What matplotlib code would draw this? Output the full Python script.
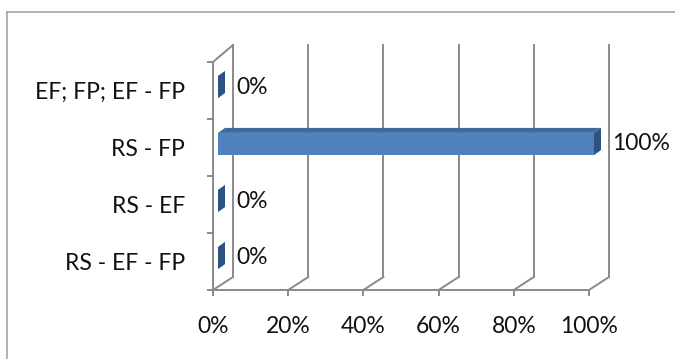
import matplotlib
matplotlib.use("Agg")
import matplotlib.pyplot as plt
from matplotlib.patches import Polygon
from matplotlib.lines import Line2D
from matplotlib.ticker import FixedLocator, FuncFormatter

# ---- data -------------------------------------------------------------
categories = ["RS - EF - FP", "RS - EF", "RS - FP", "EF; FP; EF - FP"]
shares = [0.0, 0.0, 1.0, 0.0]
x_ticks = [0.0, 0.2, 0.4, 0.6, 0.8, 1.0]

# ---- style ------------------------------------------------------------
plt.rcParams["font.family"] = ["Lato", "DejaVu Sans"]
FONT_SIZE = 16.5
TEXT_COLOR = "#111111"
GRID_COLOR = "#8a8a8a"
GRID_LW = 1.4
FRONT_COLOR = "#4f81bd"
TOP_COLOR = "#3e6a9f"
SIDE_COLOR = "#2d5481"

W, H, DPI = 675, 359, 100
fig = plt.figure(figsize=(W / DPI, H / DPI), dpi=DPI)
fig.patch.set_facecolor("white")

# plot area (front plane) in pixels
ax_left, ax_right = 213, 589
ax_top, ax_bottom = 62, 290
ax = fig.add_axes([ax_left / W, (H - ax_bottom) / H,
                   (ax_right - ax_left) / W, (ax_bottom - ax_top) / H])
ax.set_xlim(0, 1)
ax.set_ylim(-0.5, len(categories) - 0.5)
ax.set_facecolor("none")

# pixel -> data conversion for the pseudo-3D depth
px_x = 1.0 / (ax_right - ax_left)
px_y = len(categories) / (ax_bottom - ax_top)

DEPTH_DX = 20 * px_x
DEPTH_DY_BOTTOM = 13 * px_y
DEPTH_DY_TOP = 17 * px_y
y_lo, y_hi = -0.5, len(categories) - 0.5

# spines: front left wall edge and front floor edge
for side in ("top", "right"):
    ax.spines[side].set_visible(False)
for side in ("left", "bottom"):
    ax.spines[side].set_color(GRID_COLOR)
    ax.spines[side].set_linewidth(GRID_LW)

# back wall gridlines + floor diagonals
for v in x_ticks:
    ax.add_line(Line2D([v + DEPTH_DX, v + DEPTH_DX],
                       [y_lo + DEPTH_DY_BOTTOM, y_hi + DEPTH_DY_TOP],
                       color=GRID_COLOR, lw=GRID_LW, clip_on=False, zorder=1))
    ax.add_line(Line2D([v, v + DEPTH_DX], [y_lo, y_lo + DEPTH_DY_BOTTOM],
                       color=GRID_COLOR, lw=GRID_LW, clip_on=False, zorder=1))
# top edge of the side wall
ax.add_line(Line2D([0, DEPTH_DX], [y_hi, y_hi + DEPTH_DY_TOP],
                   color=GRID_COLOR, lw=GRID_LW, clip_on=False, zorder=1))

# ---- 3-D bars ---------------------------------------------------------
bar_h = 0.39
front_dx, front_dy = 5 * px_x, 3.5 * px_y
back_dx, back_dy = 12 * px_x, 8.5 * px_y
ypos = list(range(len(categories)))

bars = ax.barh([y + front_dy for y in ypos], shares, height=bar_h, left=front_dx,
               color=FRONT_COLOR, edgecolor="none", zorder=3)
for patch in bars:
    patch.set_clip_on(False)

for y, v in zip(ypos, shares):
    top = y + bar_h / 2
    bot = y - bar_h / 2
    # top face
    ax.add_patch(Polygon([(front_dx, top + front_dy), (v + front_dx, top + front_dy),
                          (v + back_dx, top + back_dy), (back_dx, top + back_dy)],
                         closed=True, facecolor=TOP_COLOR, edgecolor="none",
                         zorder=3, clip_on=False))
    # end face
    ax.add_patch(Polygon([(v + front_dx, bot + front_dy), (v + front_dx, top + front_dy),
                          (v + back_dx, top + back_dy), (v + back_dx, bot + back_dy)],
                         closed=True, facecolor=SIDE_COLOR, edgecolor="none",
                         zorder=4, clip_on=False))
    ax.annotate(f"{v:.0%}", xy=(v, y), xytext=(23, 3.5), textcoords="offset pixels",
                ha="left", va="center", fontsize=FONT_SIZE, color=TEXT_COLOR,
                annotation_clip=False)

# ---- axes ticks and labels -------------------------------------------
ax.xaxis.set_major_locator(FixedLocator(x_ticks))
ax.xaxis.set_major_formatter(FuncFormatter(lambda v, _: f"{v:.0%}"))
ax.tick_params(axis="x", which="major", direction="out", length=4.5, width=GRID_LW,
               color=GRID_COLOR, pad=14, labelsize=FONT_SIZE, labelcolor=TEXT_COLOR)

ax.yaxis.set_major_locator(FixedLocator([y - 0.5 for y in range(len(categories) + 1)]))
ax.yaxis.set_major_formatter(FuncFormatter(lambda v, _: ""))
ax.yaxis.set_minor_locator(FixedLocator(ypos))
ax.yaxis.set_minor_formatter(FuncFormatter(lambda v, _: categories[int(round(v))]))
ax.tick_params(axis="y", which="major", direction="out", length=4.5, width=GRID_LW,
               color=GRID_COLOR)
ax.tick_params(axis="y", which="minor", length=0, pad=20,
               labelsize=FONT_SIZE, labelcolor=TEXT_COLOR)

# chart frame
fig.add_artist(Line2D([7 / W, 7 / W], [0, (H - 12) / H], transform=fig.transFigure,
                      color="#a6a6a6", lw=1.2))
fig.add_artist(Line2D([7 / W, 1], [(H - 12) / H, (H - 12) / H], transform=fig.transFigure,
                      color="#a6a6a6", lw=1.2))

fig.savefig("out.png", dpi=DPI, facecolor="white")
